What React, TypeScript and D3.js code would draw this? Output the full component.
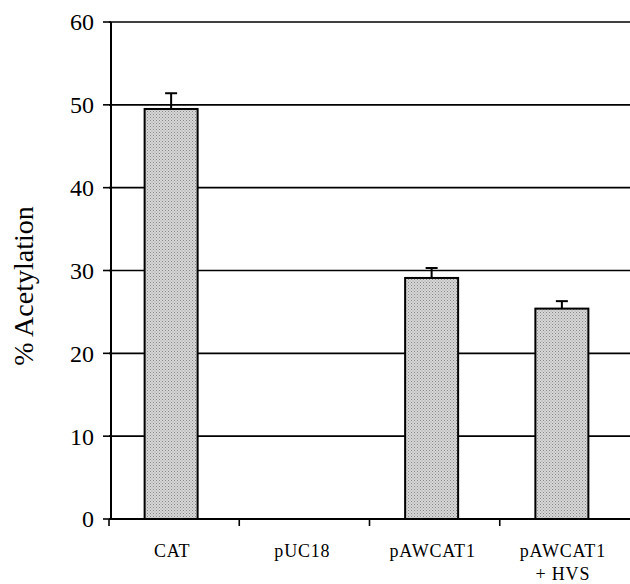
import React from "react";
import * as d3 from "d3";

const categories: string[][] = [["CAT"], ["pUC18"], ["pAWCAT1"], ["pAWCAT1", "+ HVS"]];
const values: number[] = [49.5, 0, 29.1, 25.4];
const errors: number[] = [1.9, 0, 1.2, 0.9];
const yTicks: number[] = [0, 10, 20, 30, 40, 50, 60];

const W = 630;
const H = 584;
const left = 109;
const right = 630;
const top = 22;
const bottom = 519;

export default function App() {
  const x = d3
    .scaleBand<number>()
    .domain(categories.map((_, i) => i))
    .range([left, right])
    .paddingInner(0)
    .paddingOuter(0);
  const y = d3.scaleLinear().domain([0, 60]).range([bottom, top]);
  const barW = 53;
  const font = "'Liberation Serif', 'Times New Roman', serif";

  return (
    <svg width={W} height={H} style={{ position: "absolute", left: 0, top: 0 }}>
      <defs>
        <pattern id="stipple" width="3" height="3" patternUnits="userSpaceOnUse">
          <rect width="3" height="3" fill="#d6d6d6" />
          <rect x="0" y="0" width="1" height="1" fill="#8a8a8a" />
          <rect x="1.5" y="1.5" width="1" height="1" fill="#a0a0a0" />
        </pattern>
      </defs>
      <rect width={W} height={H} fill="#fff" />
      {/* gridlines */}
      {yTicks.filter((t) => t > 0).map((t) => (
        <line key={t} x1={left} x2={right} y1={y(t)} y2={y(t)} stroke="#000" strokeWidth={1.6} />
      ))}
      {/* y axis */}
      <line x1={left + 2} x2={left + 2} y1={y(60)} y2={y(0)} stroke="#000" strokeWidth={2} />
      {yTicks.map((t) => (
        <g key={t}>
          <line x1={left - 6} x2={left + 2} y1={y(t)} y2={y(t)} stroke="#000" strokeWidth={1.6} />
          <text x={left - 15} y={y(t)} dy="0.35em" textAnchor="end" fontFamily={font} fontSize={24}>
            {t}
          </text>
        </g>
      ))}
      {/* bars */}
      {values.map((v, i) => {
        if (v <= 0) return null;
        const cx = (x(i) as number) + x.bandwidth() / 2 - 3;
        const ey = y(v + errors[i]);
        return (
          <g key={i}>
            <line x1={cx} x2={cx} y1={y(v)} y2={ey} stroke="#000" strokeWidth={2} />
            <line x1={cx - 6} x2={cx + 6} y1={ey} y2={ey} stroke="#000" strokeWidth={2} />
            <rect x={cx - barW / 2} y={y(v)} width={barW} height={y(0) - y(v)} fill="url(#stipple)" stroke="#000" strokeWidth={2} />
          </g>
        );
      })}
      {/* x axis */}
      <line x1={left} x2={right} y1={y(0)} y2={y(0)} stroke="#000" strokeWidth={2} />
      {categories.map((_, i) => (
        <line key={i} x1={x(i) as number} x2={x(i) as number} y1={y(0)} y2={y(0) + 7} stroke="#000" strokeWidth={1.6} />
      ))}
      {categories.map((lines, i) => (
        <text key={i} textAnchor="middle" fontFamily={font} fontSize={18} letterSpacing={0.8}>
          {lines.map((l, j) => (
            <tspan key={j} x={(x(i) as number) + x.bandwidth() / 2 - 2} y={557 + j * 23}>
              {l}
            </tspan>
          ))}
        </text>
      ))}
      {/* y label */}
      <text
        transform={`translate(33, ${286}) rotate(-90)`}
        textAnchor="middle"
        fontFamily={font}
        fontSize={28}
      >
        % Acetylation
      </text>
    </svg>
  );
}
